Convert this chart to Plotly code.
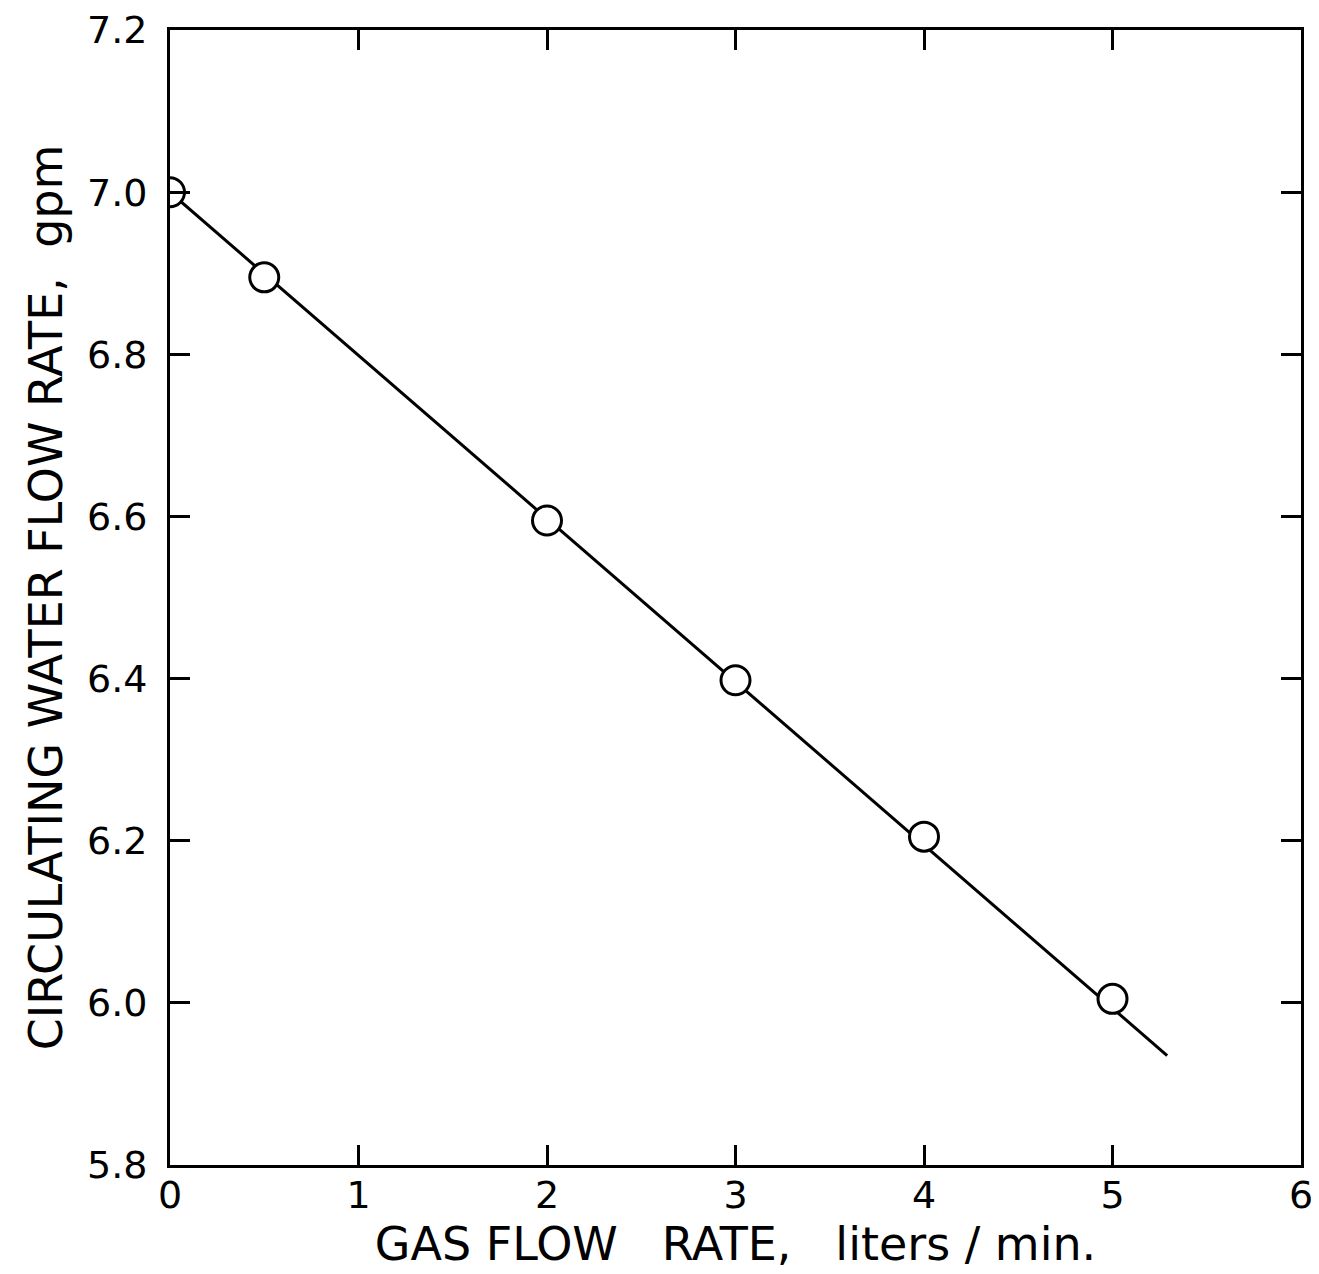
import plotly.graph_objects as go

# measured points
gas_flow = [0, 0.5, 2, 3, 4, 5]
water_flow = [7.0, 6.895, 6.595, 6.398, 6.205, 6.005]

# drawn fit line endpoints
fit_x = [0, 5.29]
fit_y = [7.0, 5.935]

x_ticks = [0, 1, 2, 3, 4, 5, 6]
y_ticks = [5.8, 6.0, 6.2, 6.4, 6.6, 6.8, 7.0, 7.2]
y_labels = ['5.8', '6.0', '6.2', '6.4', '6.6', '6.8', '7.0', '7.2']

font_name = 'DejaVu Sans'

fig = go.Figure()
fig.add_trace(go.Scatter(x=fit_x, y=fit_y, mode='lines',
                         line=dict(color='black', width=3), showlegend=False))
fig.add_trace(go.Scatter(x=gas_flow, y=water_flow, mode='markers',
                         marker=dict(size=29, color='white', symbol='circle',
                                     line=dict(color='black', width=3)),
                         showlegend=False))

axis_common = dict(showgrid=False, zeroline=False, showline=True, linecolor='black',
                   linewidth=3, mirror='ticks', ticks='inside', ticklen=20,
                   tickwidth=3, tickcolor='black', automargin=False,
                   ticklabeloverflow='allow',
                   tickfont=dict(family=font_name, size=38, color='black'))

fig.update_layout(
    width=1319, height=1274,
    margin=dict(l=162, r=26, t=22, b=117),
    plot_bgcolor='white', paper_bgcolor='white',
    xaxis=dict(range=[0, 6], tickvals=x_ticks, ticklabelstandoff=-6,
               title=dict(text='GAS FLOW   RATE,   liters / min.', standoff=0,
                          font=dict(family=font_name, size=46, color='black')),
               **axis_common),
    yaxis=dict(range=[5.8, 7.2001], tickvals=y_ticks, ticktext=y_labels, ticklabelstandoff=12,
               title=dict(text='CIRCULATING WATER FLOW RATE,  gpm', standoff=10,
                          font=dict(family=font_name, size=46, color='black')),
               **axis_common),
)

fig.write_html('out.html')
